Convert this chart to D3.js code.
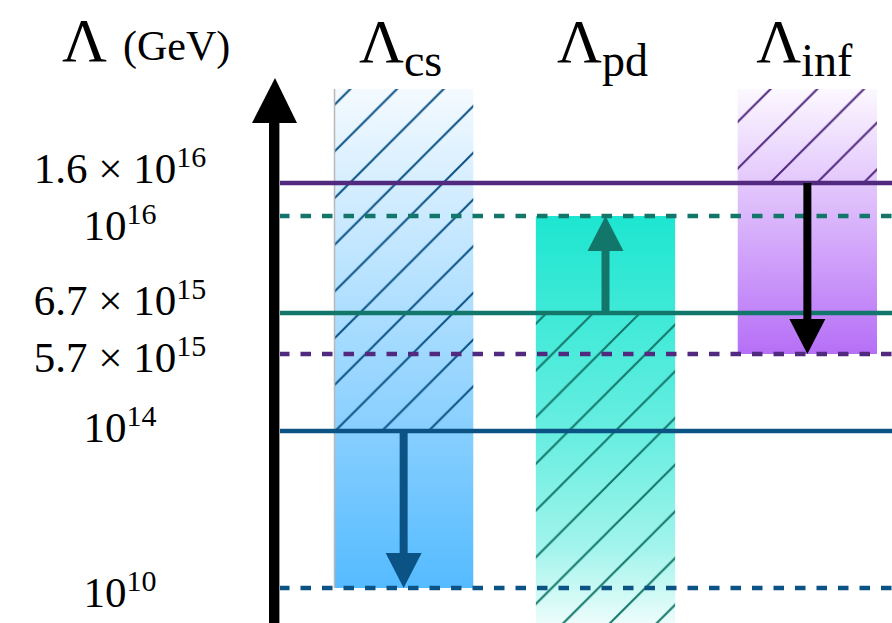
<!DOCTYPE html>
<html>
<head>
<meta charset="utf-8">
<script src="https://cdn.jsdelivr.net/npm/d3@7"></script>
<style>
  html, body { margin: 0; padding: 0; background: #fff; }
  svg { display: block; }
  svg text { font-family: "Liberation Serif", "DejaVu Serif", serif; }
</style>
</head>
<body>
<div id="wrapper"></div>
<script>
// data
const categories = ["cs", "pd", "inf"];
const levelValues = [1e10, 1e14, 5.7e15, 6.7e15, 1e16, 1.6e16];
const levelMantissa = ["", "", "5.7 × ", "6.7 × ", "", "1.6 × "];
const levelExponent = ["10", "14", "15", "15", "16", "16"];
const levelOwner = ["cs", "cs", "inf", "pd", "pd", "inf"];
const levelDashed = [true, false, true, false, true, false];

// the axis runs past the labelled levels at both ends
const axisBottom = 1e9;
const axisTop = 1e17;

const barLow = [1e10, axisBottom, 5.7e15];
const barHigh = [axisTop, 1e16, axisTop];
const hatchLow = [1e14, axisBottom, 1.6e16];
const hatchHigh = [axisTop, 6.7e15, axisTop];
const arrowFrom = [1e14, 6.7e15, 1.6e16];
const arrowTo = [1e10, 1e16, 5.7e15];

const drawChart = () => {
  const width = 892, height = 623;

  const colors = { cs: "#0b5385", pd: "#12776a", inf: "#512a7f" };
  const arrowColors = { cs: "#0b5385", pd: "#12776a", inf: "#000" };

  const svg = d3.select("#wrapper")
    .append("svg")
      .attr("width", width)
      .attr("height", height);

  // not a real log axis: each level sits where the sketch puts it
  const yScale = d3.scaleLinear()
    .domain([axisBottom, 1e10, 1e14, 5.7e15, 6.7e15, 1e16, 1.6e16, axisTop].map(Math.log10))
    .range([623, 588, 431, 354, 313, 216, 183, 89]);
  const y = v => yScale(Math.log10(v));

  const xScale = d3.scaleBand()
    .domain(categories)
    .range([334, 877])
    .paddingInner(0.31)
    .paddingOuter(0);

  const defs = svg.append("defs");

  const gradStops = {
    cs: [[0, "#f4faff"], [1, "#55bbff"]],
    pd: [[0, "#1de6d0"], [0.55, "#6aeee1"], [0.82, "#a3f4ec"], [1, "#ecfdfb"]],
    inf: [[0, "#fcf8ff"], [1, "#b66ff7"]]
  };
  categories.forEach((c, i) => {
    const g = defs.append("linearGradient")
      .attr("id", "grad-" + c)
      .attr("gradientUnits", "userSpaceOnUse")
      .attr("x1", 0).attr("x2", 0)
      .attr("y1", y(barHigh[i])).attr("y2", y(barLow[i]));
    gradStops[c].forEach(s => g.append("stop").attr("offset", s[0]).attr("stop-color", s[1]));

    const p = 46.7;
    defs.append("pattern")
      .attr("id", "hatch-" + c)
      .attr("patternUnits", "userSpaceOnUse")
      .attr("x", 0).attr("y", 19)
      .attr("width", p).attr("height", p)
      .append("path")
        .attr("d", `M0,${p} L${p},0 M-2,2 L2,-2 M${p - 2},${p + 2} L${p + 2},${p - 2}`)
        .attr("stroke", colors[c])
        .attr("stroke-width", 2)
        .attr("fill", "none");
  });

  // bars
  const bars = svg.append("g");
  categories.forEach((c, i) => {
    bars.append("rect")
      .attr("x", xScale(c))
      .attr("width", xScale.bandwidth())
      .attr("y", y(barHigh[i]))
      .attr("height", y(barLow[i]) - y(barHigh[i]))
      .attr("fill", `url(#grad-${c})`);
    bars.append("rect")
      .attr("x", xScale(c))
      .attr("width", xScale.bandwidth())
      .attr("y", y(hatchHigh[i]))
      .attr("height", y(hatchLow[i]) - y(hatchHigh[i]))
      .attr("fill", `url(#hatch-${c})`);
  });
  // thin grey edge on the left of the first bar
  bars.append("line")
    .attr("x1", xScale("cs") + 0.5).attr("x2", xScale("cs") + 0.5)
    .attr("y1", y(axisTop)).attr("y2", y(1e10))
    .attr("stroke", "#b8b8b8")
    .attr("stroke-width", 1.5);

  // level lines
  svg.append("g")
    .selectAll("line")
    .data(levelValues)
    .join("line")
      .attr("x1", 279)
      .attr("x2", width)
      .attr("y1", d => y(d))
      .attr("y2", d => y(d))
      .attr("stroke", (d, i) => colors[levelOwner[i]])
      .attr("stroke-width", 4.5)
      .attr("stroke-dasharray", (d, i) => levelDashed[i] ? "10.5,11" : null);

  // arrows
  const arrows = svg.append("g");
  categories.forEach((c, i) => {
    const cx = xScale(c) + xScale.bandwidth() / 2;
    const y0 = y(arrowFrom[i]), y1 = y(arrowTo[i]);
    const dir = y1 > y0 ? 1 : -1;
    const headH = 35, headW = 36;
    arrows.append("line")
      .attr("x1", cx).attr("x2", cx)
      .attr("y1", y0).attr("y2", y1 - dir * (headH - 2))
      .attr("stroke", arrowColors[c])
      .attr("stroke-width", 8);
    arrows.append("path")
      .attr("d", `M${cx},${y1} L${cx - headW / 2},${y1 - dir * headH} L${cx + headW / 2},${y1 - dir * headH} Z`)
      .attr("fill", arrowColors[c]);
  });

  // vertical axis with arrowhead
  const axisX = 274;
  svg.append("line")
    .attr("x1", axisX + 5.5).attr("x2", axisX + 5.5)
    .attr("y1", 120).attr("y2", height)
    .attr("stroke", "#999")
    .attr("stroke-width", 1);
  svg.append("line")
    .attr("x1", axisX).attr("x2", axisX)
    .attr("y1", 115).attr("y2", height)
    .attr("stroke", "#000")
    .attr("stroke-width", 10);
  svg.append("path")
    .attr("d", `M${axisX + 1},78 L${axisX - 22},123 L${axisX + 23},123 Z`)
    .attr("fill", "#000");

  // tick labels
  const labelDy = [19, 11, 18, 2, 24, 0];
  const labels = svg.append("g")
    .attr("text-anchor", "middle")
    .attr("fill", "#000");
  levelValues.forEach((v, i) => {
    const t = labels.append("text")
      .attr("x", 120)
      .attr("y", y(v) + labelDy[i])
      .attr("font-size", 43);
    t.append("tspan").text(levelMantissa[i] + "10");
    t.append("tspan")
      .attr("font-size", 30)
      .attr("dy", -16)
      .text(levelExponent[i]);
  });

  // headers
  const head = svg.append("g").attr("fill", "#000");
  const yLabel = head.append("text").attr("x", 62).attr("y", 61);
  yLabel.append("tspan").attr("font-size", 62).text("Λ");
  yLabel.append("tspan").attr("font-size", 42).attr("dx", 16).attr("dy", -1).text("(GeV)");

  categories.forEach(c => {
    const t = head.append("text")
      .attr("x", xScale(c) + xScale.bandwidth() / 2 - 3)
      .attr("y", 62)
      .attr("text-anchor", "middle");
    t.append("tspan").attr("font-size", 62).text("Λ");
    t.append("tspan").attr("font-size", 46).attr("dy", 14).text(c);
  });
};

drawChart();
</script>
</body>
</html>
